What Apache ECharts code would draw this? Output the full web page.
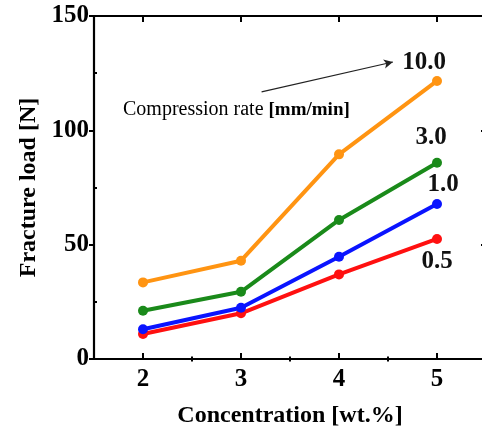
<!DOCTYPE html>
<html><head><meta charset="utf-8">
<script src="https://cdn.jsdelivr.net/npm/echarts@6/dist/echarts.min.js"></script>
<style>html,body{margin:0;padding:0;background:#fff}#c{width:482px;height:428px}</style>
</head><body><div id="c"></div>
<script>
var concentrations = [2, 3, 4, 5];
var xTickLabels = [2, 3, 4, 5];
var xMinorTicks = [2.5, 3.5, 4.5];
var rateNames = ['10.0', '3.0', '1.0', '0.5'];
var load_10_0 = [33.5, 43, 89.5, 121.6];
var load_3_0 = [21.1, 29.4, 60.8, 85.8];
var load_1_0 = [13, 22.4, 44.7, 67.8];
var load_0_5 = [10.9, 20, 37, 52.5];
var arrowStart = [3.21, 116.8];
var arrowEnd = [4.55, 129.9];

var colors = ['#ff9412', '#1a8a1a', '#0a14ff', '#ff1010'];
var labelOffsets = [[-13, -18], [-6, -25], [6, -19], [0, 23]];
var allData = [load_10_0, load_3_0, load_1_0, load_0_5];

var serif = '"Liberation Serif", "DejaVu Serif", serif';

var series = allData.map(function (vals, si) {
  var data = vals.map(function (v, i) {
    var item = { value: [concentrations[i], v] };
    if (i === vals.length - 1) {
      item.label = {
        show: true, formatter: rateNames[si], position: 'inside',
        offset: labelOffsets[si], fontFamily: serif, fontSize: 25,
        color: '#111', fontWeight: 'bold'
      };
    }
    return item;
  });
  var s = {
    type: 'line', name: rateNames[si], data: data,
    symbol: 'circle', symbolSize: 10,
    lineStyle: { color: colors[si], width: 4 },
    itemStyle: { color: colors[si] },
    z: 5 - si
  };
  if (si === 0) {
    s.markLine = {
      silent: true, symbol: ['none', 'arrow'], symbolSize: [7, 9],
      lineStyle: { color: '#222', width: 1.2, type: 'solid' },
      label: { show: false },
      data: [[{ coord: arrowStart }, { coord: arrowEnd }]]
    };
  }
  return s;
});

var axisLine = { show: true, onZero: false, lineStyle: { color: '#000', width: 2.2 } };

var option = {
  animation: false,
  backgroundColor: '#fff',
  grid: { left: 94, top: 16, width: 392, height: 343, containLabel: false, outerBoundsMode: 'none' },
  xAxis: [
    {
      type: 'value', min: 1.5, max: 5.5, position: 'bottom',
      axisLine: axisLine,
      axisTick: { show: true, inside: true, length: 6, customValues: concentrations, lineStyle: { color: '#000', width: 2 } },
      axisLabel: { customValues: xTickLabels, margin: 8, fontFamily: serif, fontSize: 25, fontWeight: 'bold', color: '#000' },
      splitLine: { show: false },
      name: 'Concentration [wt.%]', nameLocation: 'middle', nameGap: 45,
      nameTextStyle: { fontFamily: serif, fontSize: 24, fontWeight: 'bold', color: '#000' }
    },
    {
      type: 'value', min: 1.5, max: 5.5, position: 'bottom',
      axisLine: { show: false },
      axisTick: { show: true, inside: true, length: 2.5, customValues: xMinorTicks, lineStyle: { color: '#000', width: 2 } },
      axisLabel: { show: false }, splitLine: { show: false }
    },
    {
      type: 'value', min: 1.5, max: 5.5, position: 'top',
      axisLine: axisLine,
      axisTick: { show: true, inside: true, length: 6, customValues: concentrations, lineStyle: { color: '#000', width: 2 } },
      axisLabel: { show: false }, splitLine: { show: false }
    },
    {
      type: 'value', min: 1.5, max: 5.5, position: 'top',
      axisLine: { show: false },
      axisTick: { show: true, inside: true, length: 2.5, customValues: xMinorTicks, lineStyle: { color: '#000', width: 2 } },
      axisLabel: { show: false }, splitLine: { show: false }
    }
  ],
  yAxis: [
    {
      type: 'value', min: 0, max: 150, interval: 50, position: 'left',
      axisLine: axisLine,
      axisTick: { show: true, inside: false, length: 5, lineStyle: { color: '#000', width: 2 } },
      axisLabel: { margin: 5, fontFamily: serif, fontSize: 25, fontWeight: 'bold', color: '#000' },
      splitLine: { show: false },
      name: 'Fracture load [N]', nameLocation: 'middle', nameGap: 47,
      nameTextStyle: { fontFamily: serif, fontSize: 24, fontWeight: 'bold', color: '#000' }
    },
    {
      type: 'value', min: 0, max: 150, interval: 50, position: 'left',
      axisLine: { show: false },
      axisTick: { show: false, inside: true },
      minorTick: { show: true, splitNumber: 2, length: 3, lineStyle: { color: '#000', width: 2 } },
      axisLabel: { show: false }, splitLine: { show: false }
    },
    {
      type: 'value', min: 0, max: 150, interval: 50, position: 'right',
      axisLine: axisLine,
      axisTick: { show: true, inside: true, length: 5, lineStyle: { color: '#000', width: 2 } },
      minorTick: { show: true, splitNumber: 2, length: 3, lineStyle: { color: '#000', width: 2 } },
      axisLabel: { show: false }, splitLine: { show: false }
    }
  ],
  graphic: [{
    type: 'text', left: 123, top: 100, z: 10,
    style: {
      text: '{a|Compression rate }{b|[mm/min]}',
      rich: {
        a: { fontFamily: serif, fontSize: 20, color: '#333' },
        b: { fontFamily: serif, fontSize: 19, fontWeight: 'bold', color: '#222' }
      }
    }
  }],
  series: series
};
var chart = echarts.init(document.getElementById('c'), null, { renderer: 'canvas' });
chart.setOption(option);
</script></body></html>
